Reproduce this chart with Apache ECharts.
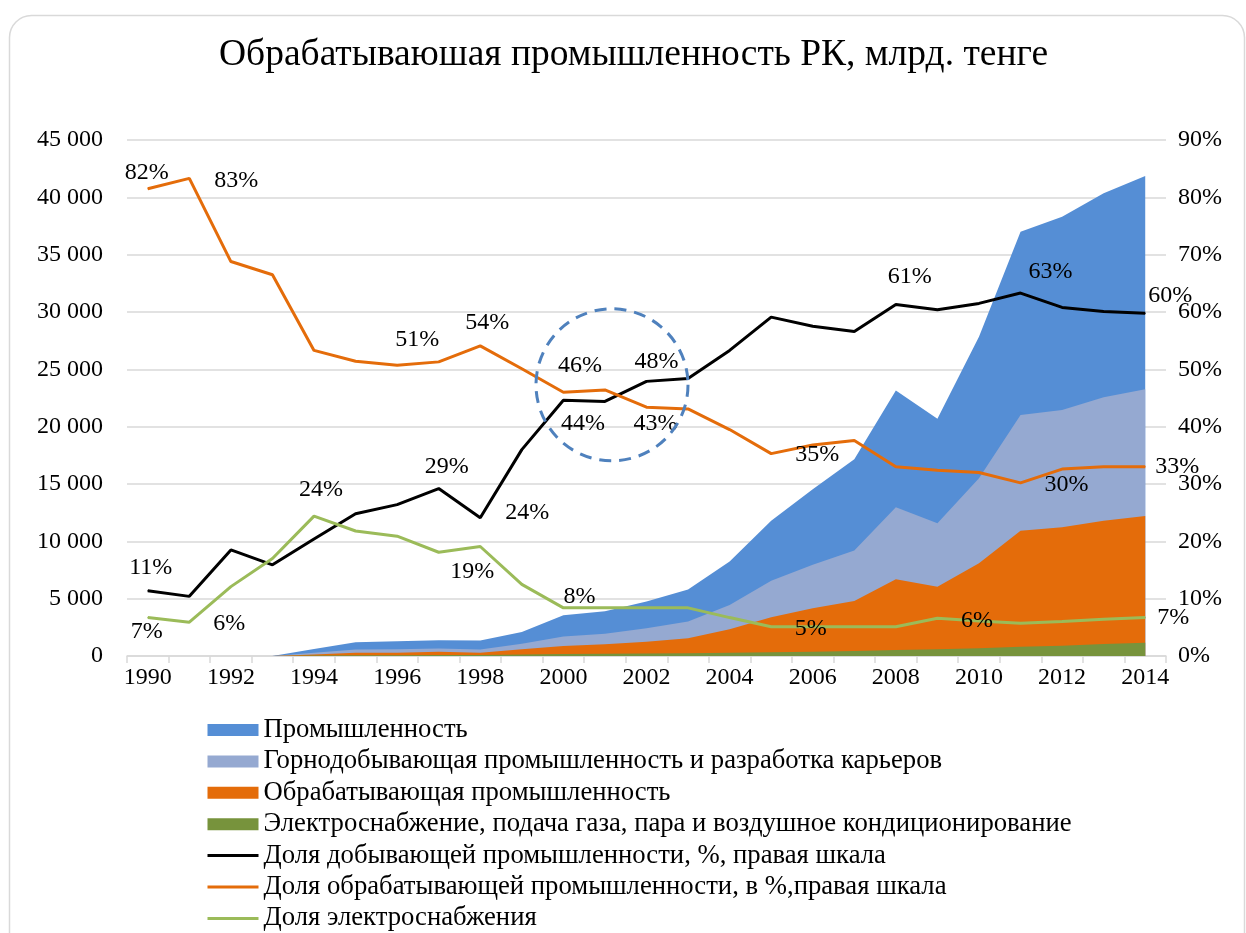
<!DOCTYPE html>
<html>
<head>
<meta charset="utf-8">
<script src="https://cdn.jsdelivr.net/npm/echarts@6/dist/echarts.min.js"></script>
<style>
  html, body { margin: 0; padding: 0; background: #fff; }
  #chart { width: 1246px; height: 933px; }
</style>
</head>
<body>
<div id="chart"></div>
<script>
const years = ['1990', '1991', '1992', '1993', '1994', '1995', '1996', '1997', '1998', '1999',
  '2000', '2001', '2002', '2003', '2004', '2005', '2006', '2007', '2008', '2009',
  '2010', '2011', '2012', '2013', '2014'];

// млрд. тенге, левая шкала
const industry = [null, null, null, 0, 600, 1200, 1290, 1375, 1350, 2100,
  3550, 3900, 4750, 5800, 8250, 11800, 14550, 17150, 23150, 20700,
  27850, 37000, 38300, 40350, 41850];
const mining = [null, null, null, 0, 280, 560, 580, 650, 570, 1060,
  1690, 1930, 2420, 3000, 4450, 6570, 7950, 9200, 12970, 11570,
  15500, 21020, 21450, 22560, 23260];
const manufacturing = [null, null, null, 0, 130, 280, 280, 380, 290, 580,
  870, 1020, 1250, 1540, 2330, 3380, 4160, 4800, 6690, 6050,
  8090, 10930, 11220, 11800, 12220];
const electricity = [null, null, null, 0, 40, 60, 70, 80, 80, 120,
  170, 190, 210, 240, 280, 320, 380, 440, 520, 580,
  670, 810, 900, 1050, 1160];

// %, правая шкала
const miningShare = [11.4, 10.4, 18.5, 15.9, 20.4, 24.8, 26.4, 29.2, 24.1, 36.0,
  44.6, 44.4, 47.9, 48.4, 53.3, 59.1, 57.5, 56.6, 61.3, 60.4,
  61.5, 63.3, 60.8, 60.1, 59.8];
const manufShare = [81.5, 83.3, 68.8, 66.5, 53.3, 51.4, 50.7, 51.3, 54.1, 50.1,
  46.0, 46.4, 43.4, 43.1, 39.5, 35.3, 36.8, 37.6, 33.0, 32.4,
  32.0, 30.2, 32.6, 33.0, 33.0];
const elecShare = [6.7, 5.9, 12.1, 17.0, 24.4, 21.8, 20.9, 18.1, 19.1, 12.5,
  8.4, 8.4, 8.4, 8.4, 6.7, 5.1, 5.1, 5.1, 5.1, 6.6,
  6.1, 5.7, 6.0, 6.4, 6.7];

const names = [
  'Промышленность',
  'Горнодобывающая промышленность и разработка карьеров',
  'Обрабатывающая промышленность',
  'Электроснабжение, подача газа, пара и воздушное кондиционирование',
  'Доля добывающей промышленности, %, правая шкала',
  'Доля обрабатывающей промышленности, в %,правая шкала',
  'Доля электроснабжения'
];

// which points carry a label, and where the label sits relative to the point
const miningLabels = { 0: [3, -23], 7: [8, -22], 8: [47, -5], 11: [-22, 22], 12: [10, -20], 18: [14, -28], 21: [30, -21], 24: [25, -17] };
const manufLabels = { 0: [-1, -16], 1: [47, 2], 6: [20, -26], 8: [7, -23], 11: [-25, -24], 12: [9, 17], 15: [46, 1], 21: [46, 2], 24: [32, 0] };
const elecLabels = { 0: [-1, 14], 1: [40, 2], 4: [7, -26], 8: [-8, 25], 10: [16, -11], 16: [-2, 2], 20: [-2, 0], 24: [28, 0] };

const FONT = '"Liberation Serif", "Times New Roman", serif';

// labelled points get a 1px symbol so the label has something to hang on
function withLabels(values, spots) {
  return values.map((v, i) => spots[i] ? {
    value: v,
    symbol: 'circle',
    symbolSize: 1,
    label: { show: true, position: 'inside', offset: spots[i] }
  } : v);
}

function areaSeries(name, data, color) {
  return {
    name, type: 'line', data, yAxisIndex: 0,
    symbol: 'none', lineStyle: { width: 0 }, itemStyle: { color },
    areaStyle: { color, opacity: 1 }, emphasis: { disabled: true }
  };
}

function shareSeries(name, data, color, width) {
  return {
    name, type: 'line', data, yAxisIndex: 1,
    symbol: 'none', showSymbol: true,
    lineStyle: { color, width }, itemStyle: { color },
    label: {
      show: false, color: '#000', fontFamily: FONT, fontSize: 24,
      formatter: p => Math.round(p.value) + '%'
    },
    emphasis: { disabled: true }
  };
}

const chart = echarts.init(document.getElementById('chart'));

chart.setOption({
  animation: false,
  backgroundColor: '#fff',
  title: {
    text: 'Обрабатываюшая промышленность РК, млрд. тенге',
    left: 219, top: 36, padding: 0,
    textStyle: { fontFamily: FONT, fontSize: 37.5, fontWeight: 'normal', color: '#000' }
  },
  grid: { left: 127, right: 80, top: 140, bottom: 277 },
  legend: {
    orient: 'vertical', left: 206, top: 716, height: 300, padding: 0,
    itemWidth: 51, itemHeight: 12, itemGap: 3.4,
    textStyle: { fontFamily: FONT, fontSize: 26.7, color: '#000', lineHeight: 28 },
    data: [
      { name: names[0], icon: 'rect' },
      { name: names[1], icon: 'rect' },
      { name: names[2], icon: 'rect' },
      { name: names[3], icon: 'rect' },
      { name: names[4], itemStyle: { opacity: 0 }, lineStyle: { width: 3 } },
      { name: names[5], itemStyle: { opacity: 0 }, lineStyle: { width: 3 } },
      { name: names[6], itemStyle: { opacity: 0 }, lineStyle: { width: 3 } }
    ]
  },
  xAxis: {
    type: 'category', data: years, boundaryGap: true,
    axisLine: { lineStyle: { color: '#d9d9d9', width: 1.5 } },
    axisTick: { show: true, interval: 0, length: 7, lineStyle: { color: '#d9d9d9', width: 1.5 } },
    axisLabel: { interval: 1, color: '#000', fontFamily: FONT, fontSize: 24, margin: 10 }
  },
  yAxis: [
    {
      type: 'value', min: 0, max: 45000, interval: 5000,
      axisLine: { show: false }, axisTick: { show: false },
      splitLine: { lineStyle: { color: '#d9d9d9', width: 1.5 } },
      axisLabel: {
        color: '#000', fontFamily: FONT, fontSize: 24, margin: 24,
        formatter: v => v === 0 ? '0' : (v / 1000) + ' 000'
      }
    },
    {
      type: 'value', min: 0, max: 90, interval: 10, position: 'right',
      axisLine: { show: false }, axisTick: { show: false }, splitLine: { show: false },
      axisLabel: { color: '#000', fontFamily: FONT, fontSize: 24, margin: 12, formatter: '{value}%' }
    }
  ],
  series: [
    areaSeries(names[0], industry, '#558ed5'),
    areaSeries(names[1], mining, '#95a9d1'),
    areaSeries(names[2], manufacturing, '#e46c0a'),
    areaSeries(names[3], electricity, '#77933c'),
    shareSeries(names[4], withLabels(miningShare, miningLabels), '#000000', 3),
    shareSeries(names[5], withLabels(manufShare, manufLabels), '#e46c0a', 3),
    shareSeries(names[6], withLabels(elecShare, elecLabels), '#9bbb59', 3)
  ]
});

// annotation ring around the 2000–2003 crossover, placed in data space
const pA = chart.convertToPixel({ seriesIndex: 5 }, [11, 47.3]);
const pB = chart.convertToPixel({ seriesIndex: 5 }, [12, 47.3]);
const cx = pA[0] + (pB[0] - pA[0]) * 0.17;

chart.setOption({
  graphic: [
    {
      type: 'rect', silent: true, z: -1,
      shape: { x: 9.5, y: 15.5, width: 1235, height: 960, r: 22 },
      style: { fill: 'none', stroke: '#d9d9d9', lineWidth: 1.5 }
    },
    {
      type: 'circle', silent: true, z: 100,
      shape: { cx: cx, cy: pA[1], r: 76 },
      style: { fill: 'none', stroke: '#4f81bd', lineWidth: 3, lineDash: [12, 8] }
    }
  ]
});
</script>
</body>
</html>
